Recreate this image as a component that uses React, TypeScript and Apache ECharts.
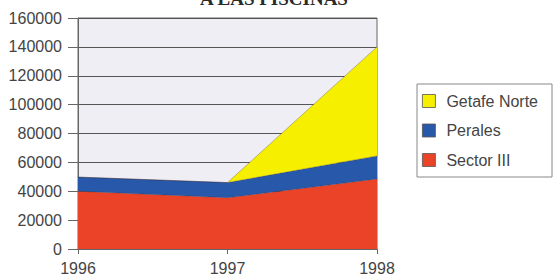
import React, { useEffect, useRef } from "react";
import * as echarts from "echarts";

const years = ["1996", "1997", "1998"];
const sectorIII = [40000, 35500, 48500];
const perales = [9800, 10500, 16000];
const getafeNorte = [0, 0, 75500];
const legendOrder = ["Getafe Norte", "Perales", "Sector III"];
const titleText = "A LAS PISCINAS";

const FONT = "'Liberation Sans', Arial, sans-serif";

export default function App() {
  const ref = useRef<HTMLDivElement>(null);
  useEffect(() => {
    if (!ref.current) return;
    const chart = echarts.init(ref.current, undefined, { renderer: "svg" });
    const mk = (name: string, data: number[], color: string) => ({
      name,
      type: "line",
      stack: "total",
      data,
      symbol: "none",
      lineStyle: { width: 0.6, color: "rgba(60,40,40,0.5)" },
      areaStyle: { color, opacity: 1 },
      itemStyle: { color },
    });
    chart.setOption({
      animation: false,
      backgroundColor: "#ffffff",
      graphic: [
        {
          type: "text",
          x: 274,
          y: 8,
          style: {
            text: titleText,
            fontFamily: "'Liberation Serif', 'Times New Roman', serif",
            fontSize: 19,
            fontWeight: "bold",
            fill: "#2a2a2a",
            align: "center",
            verticalAlign: "bottom",
          },
        },
      ],
      grid: {
        left: 78,
        right: 177,
        top: 18,
        bottom: 30,
        show: true,
        backgroundColor: "#eeeef4",
        borderColor: "#666",
        borderWidth: 1,
      },
      legend: {
        data: legendOrder,
        orient: "vertical",
        left: 417,
        top: 84,
        padding: [9, 14, 9, 5],
        itemGap: 13.5,
        itemWidth: 13,
        itemHeight: 13,
        icon: "rect",
        borderColor: "#888",
        borderWidth: 1,
        itemStyle: { borderColor: "#555", borderWidth: 0.8 },
        textStyle: { fontFamily: FONT, fontSize: 16, color: "#444", padding: [0, 0, 0, 6] },
      },
      xAxis: {
        type: "category",
        data: years,
        boundaryGap: false,
        axisLine: { lineStyle: { color: "#666" } },
        axisTick: { show: true, length: 5, lineStyle: { color: "#666" } },
        axisLabel: { fontFamily: FONT, fontSize: 16, color: "#444", margin: 11 },
        splitLine: { show: false },
      },
      yAxis: {
        type: "value",
        min: 0,
        max: 160000,
        interval: 20000,
        axisLine: { show: true, lineStyle: { color: "#666" } },
        axisTick: { show: true, length: 10, lineStyle: { color: "#666" } },
        axisLabel: {
          fontFamily: FONT,
          fontSize: 16,
          color: "#444",
          margin: 16,
          formatter: (v: number) => String(v),
        },
        splitLine: { show: true, lineStyle: { color: "#555", width: 1 } },
      },
      series: [
        mk("Sector III", sectorIII, "#ea4328"),
        mk("Perales", perales, "#2858aa"),
        mk("Getafe Norte", getafeNorte, "#f6f000"),
      ],
    });
    return () => chart.dispose();
  }, []);
  return (
    <div
      ref={ref}
      style={{ position: "fixed", left: 0, top: 0, width: 554, height: 279 }}
    />
  );
}
